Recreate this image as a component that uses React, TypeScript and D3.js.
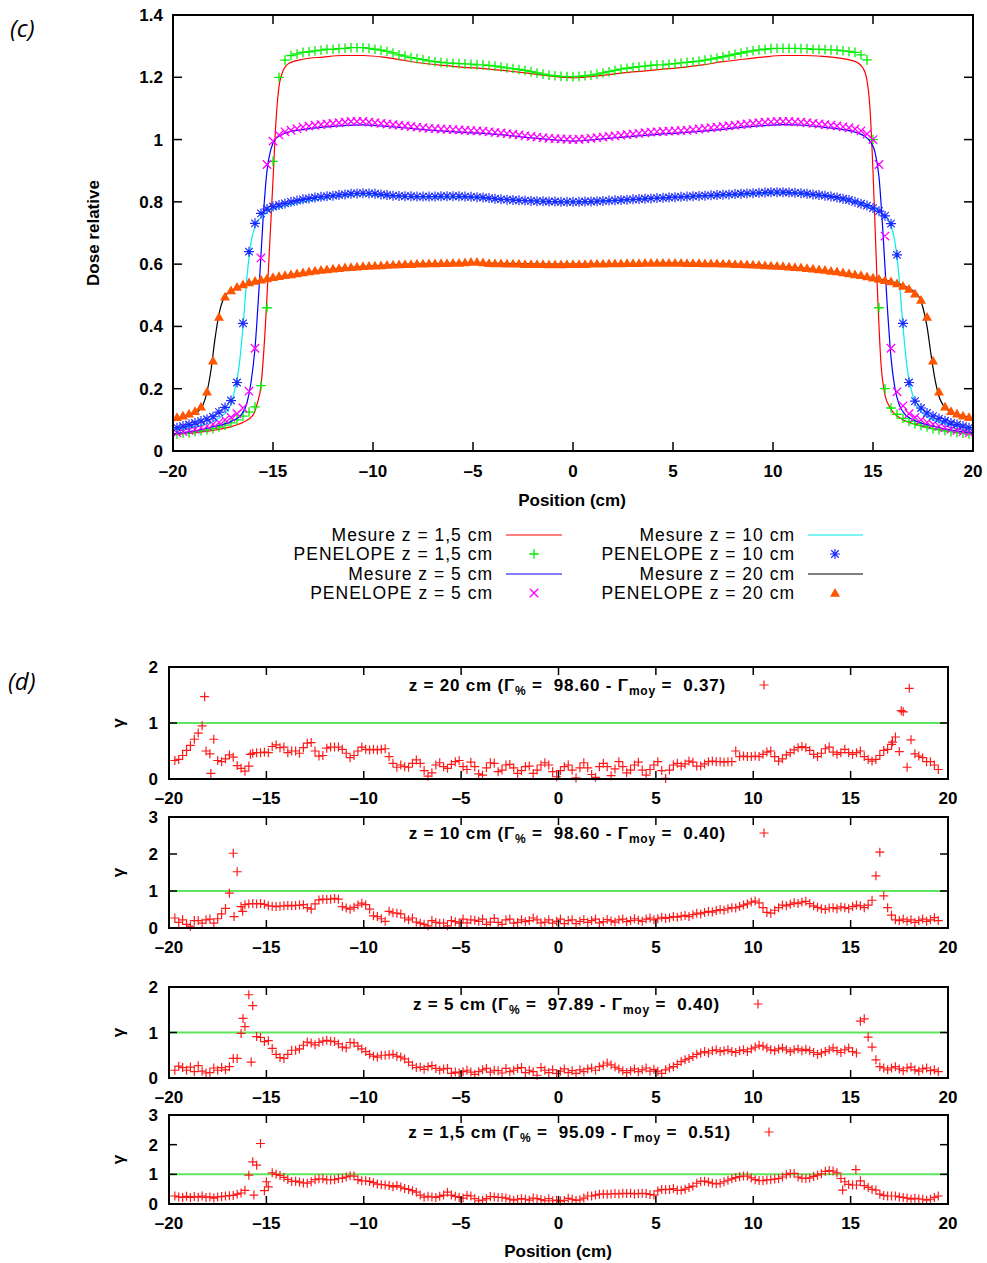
import React from "react";
import * as d3 from "d3";

const FONT = "'Liberation Sans', Arial, Helvetica, sans-serif";

// ---------- top chart (c) ----------
const positionTicks = [-20, -15, -10, -5, 0, 5, 10, 15, 20];
const positionTickLabels = ["–20", "–15", "–10", "–5", "0", "5", "10", "15", "20"];
const doseTicks = [0, 0.2, 0.4, 0.6, 0.8, 1, 1.2, 1.4];
const doseTickLabels = ["0", "0.2", "0.4", "0.6", "0.8", "1", "1.2", "1.4"];

// PENELOPE points, sampled every 0.3 cm starting at -19.8 cm
const penStart = -19.8;
const penStep = 0.3;
const pen15 = [
  0.055, 0.057, 0.058, 0.062, 0.065, 0.068, 0.072, 0.077, 0.083, 0.09, 0.1, 0.112, 0.125, 0.142, 0.21, 0.46, 0.93, 1.2,
  1.255, 1.27, 1.275, 1.28, 1.282, 1.285, 1.287, 1.29, 1.29, 1.292, 1.293, 1.295, 1.295, 1.295, 1.293, 1.29, 1.287, 1.283,
  1.278, 1.272, 1.268, 1.263, 1.26, 1.257, 1.253, 1.25, 1.248, 1.246, 1.245, 1.244, 1.243, 1.242, 1.24, 1.24, 1.238,
  1.236, 1.233, 1.23, 1.228, 1.225, 1.222, 1.218, 1.214, 1.21, 1.207, 1.205, 1.203, 1.202, 1.202,
  1.203, 1.205, 1.207, 1.21, 1.214, 1.218, 1.222, 1.226, 1.229, 1.232, 1.234, 1.236, 1.238, 1.24, 1.24, 1.242, 1.244,
  1.246, 1.248, 1.25, 1.252, 1.255, 1.258, 1.262, 1.266, 1.27, 1.274, 1.278, 1.282, 1.285, 1.288, 1.29, 1.292, 1.293,
  1.293, 1.293, 1.293, 1.292, 1.292, 1.29, 1.29, 1.289, 1.288, 1.287, 1.285, 1.283, 1.28, 1.272, 1.256, 1.0, 0.46, 0.2,
  0.138, 0.118, 0.105, 0.095, 0.088, 0.082, 0.077, 0.072, 0.068, 0.065, 0.062, 0.059, 0.057, 0.055,
];
const pen5 = [
  0.058, 0.062, 0.066, 0.07, 0.075, 0.08, 0.086, 0.092, 0.1, 0.108, 0.12, 0.138, 0.192, 0.33, 0.62, 0.92, 0.995,
  1.015, 1.025, 1.03, 1.035, 1.04, 1.043, 1.046, 1.048, 1.05, 1.052, 1.054, 1.056, 1.058, 1.058, 1.058, 1.056, 1.054,
  1.052, 1.05, 1.048, 1.046, 1.044, 1.042, 1.04, 1.038, 1.036, 1.035, 1.034, 1.033, 1.032, 1.031, 1.03, 1.029, 1.028,
  1.027, 1.025, 1.023, 1.021, 1.019, 1.017, 1.015, 1.012, 1.01, 1.008, 1.006, 1.004, 1.003, 1.002, 1.001, 1.0,
  1.001, 1.002, 1.004, 1.006, 1.008, 1.01, 1.012, 1.014, 1.016, 1.018, 1.02, 1.022, 1.024, 1.025, 1.026, 1.027, 1.028,
  1.029, 1.03, 1.032, 1.034, 1.036, 1.038, 1.04, 1.042, 1.044, 1.046, 1.048, 1.05, 1.052, 1.054, 1.056, 1.057, 1.058,
  1.058, 1.058, 1.057, 1.056, 1.054, 1.052, 1.05, 1.048, 1.046, 1.044, 1.041, 1.038, 1.034, 1.028, 1.018, 1.0, 0.92,
  0.69, 0.33, 0.19, 0.145, 0.12, 0.108, 0.1, 0.092, 0.086, 0.08, 0.075, 0.07, 0.066, 0.062, 0.058,
];
const pen10 = [
  0.075, 0.08, 0.085, 0.09, 0.096, 0.102, 0.11, 0.125, 0.14, 0.162, 0.22, 0.41, 0.64, 0.731, 0.763, 0.777, 0.785,
  0.79, 0.795, 0.8, 0.804, 0.808, 0.811, 0.814, 0.816, 0.818, 0.82, 0.822, 0.824, 0.826, 0.827, 0.828, 0.827, 0.826,
  0.824, 0.822, 0.82, 0.819, 0.818, 0.818, 0.817, 0.817, 0.817, 0.817, 0.818, 0.818, 0.818, 0.818, 0.817, 0.816,
  0.815, 0.814, 0.812, 0.81, 0.808, 0.807, 0.806, 0.805, 0.804, 0.803, 0.802, 0.802, 0.801, 0.801, 0.8, 0.8, 0.8,
  0.8, 0.801, 0.801, 0.802, 0.803, 0.804, 0.805, 0.806, 0.807, 0.808, 0.809, 0.81, 0.811, 0.812, 0.813, 0.814, 0.815,
  0.816, 0.817, 0.818, 0.819, 0.82, 0.821, 0.822, 0.823, 0.824, 0.825, 0.826, 0.827, 0.828, 0.829, 0.83, 0.831, 0.831,
  0.831, 0.83, 0.829, 0.828, 0.826, 0.824, 0.822, 0.82, 0.817, 0.814, 0.81, 0.806, 0.8, 0.794, 0.788, 0.78, 0.77,
  0.755, 0.73, 0.63, 0.41, 0.22, 0.16, 0.138, 0.122, 0.112, 0.104, 0.097, 0.09, 0.085, 0.08, 0.075,
];
const pen20 = [
  0.108, 0.113, 0.12, 0.128, 0.142, 0.19, 0.29, 0.43, 0.495, 0.515, 0.527, 0.535, 0.541, 0.546, 0.55, 0.554, 0.558,
  0.561, 0.564, 0.567, 0.57, 0.573, 0.576, 0.579, 0.581, 0.583, 0.585, 0.587, 0.589, 0.59, 0.592, 0.593, 0.594, 0.595,
  0.596, 0.597, 0.598, 0.599, 0.6, 0.6, 0.601, 0.601, 0.602, 0.602, 0.603, 0.603, 0.604, 0.604, 0.605, 0.607, 0.607,
  0.605, 0.603, 0.602, 0.602, 0.601, 0.601, 0.601, 0.6, 0.6, 0.6, 0.6, 0.599, 0.599, 0.599, 0.6, 0.6,
  0.6, 0.6, 0.601, 0.601, 0.601, 0.602, 0.602, 0.602, 0.603, 0.603, 0.603, 0.604, 0.604, 0.604, 0.604, 0.604, 0.604,
  0.604, 0.603, 0.603, 0.603, 0.602, 0.602, 0.602, 0.601, 0.601, 0.6, 0.6, 0.599, 0.598, 0.597, 0.596, 0.595, 0.594,
  0.593, 0.592, 0.59, 0.589, 0.587, 0.585, 0.583, 0.581, 0.578, 0.576, 0.573, 0.57, 0.567, 0.564, 0.56, 0.556, 0.552,
  0.548, 0.544, 0.538, 0.53, 0.52, 0.505, 0.485, 0.43, 0.29, 0.19, 0.142, 0.128, 0.12, 0.113, 0.108,
];

// Measured profiles
const mesX15 = [-20, -19, -18, -17, -16.5, -16, -15.8, -15.6, -15.4, -15.2, -15, -14.85, -14.7, -14.5, -14.2, -13.5, -12.5, -11.5, -10.5, -9.5, -8.5, -7.5, -6.5, -5.5, -4.5, -3.5, -2.5, -1.5, -0.5, 0, 0.5, 1.5, 2.5, 3.5, 4.5, 5.5, 6.5, 7.5, 8.5, 9.5, 10.5, 11.5, 12.5, 13.5, 14.2, 14.5, 14.7, 14.85, 15, 15.2, 15.4, 15.6, 15.8, 16, 16.5, 17, 18, 19, 20];
const mes15 = [0.052, 0.058, 0.066, 0.08, 0.092, 0.115, 0.15, 0.21, 0.38, 0.62, 0.87, 1.06, 1.17, 1.22, 1.245, 1.258, 1.265, 1.27, 1.27, 1.265, 1.255, 1.245, 1.238, 1.232, 1.228, 1.222, 1.215, 1.207, 1.2, 1.198, 1.2, 1.206, 1.214, 1.22, 1.226, 1.232, 1.24, 1.25, 1.258, 1.265, 1.27, 1.27, 1.267, 1.26, 1.248, 1.23, 1.19, 1.1, 0.9, 0.55, 0.28, 0.18, 0.145, 0.125, 0.1, 0.088, 0.072, 0.062, 0.056];
const mesX5 = [-20, -19, -18, -17, -16.6, -16.3, -16.1, -15.9, -15.7, -15.5, -15.3, -15.1, -14.9, -14.6, -14.2, -13.5, -12.5, -11.5, -10.5, -9.5, -8.5, -7.5, -6.5, -5.5, -4.5, -3.5, -2.5, -1.5, -0.5, 0, 0.5, 1.5, 2.5, 3.5, 4.5, 5.5, 6.5, 7.5, 8.5, 9.5, 10.5, 11.5, 12.5, 13.5, 14.2, 14.6, 14.9, 15.1, 15.3, 15.5, 15.7, 15.9, 16.1, 16.3, 16.6, 17, 18, 19, 20];
const mes5 = [0.055, 0.064, 0.078, 0.098, 0.115, 0.155, 0.22, 0.33, 0.52, 0.74, 0.9, 0.97, 1.0, 1.015, 1.025, 1.032, 1.04, 1.045, 1.047, 1.043, 1.038, 1.032, 1.027, 1.023, 1.02, 1.015, 1.008, 1.002, 0.997, 0.995, 0.997, 1.002, 1.008, 1.013, 1.018, 1.022, 1.027, 1.033, 1.04, 1.045, 1.048, 1.046, 1.04, 1.032, 1.022, 1.01, 0.99, 0.96, 0.88, 0.7, 0.48, 0.3, 0.2, 0.15, 0.118, 0.1, 0.08, 0.066, 0.058];
const mesX10 = [-20, -19, -18, -17.5, -17.1, -16.9, -16.7, -16.5, -16.3, -16.1, -15.9, -15.6, -15.2, -14.5, -13.5, -12.5, -11.5, -10.5, -9.5, -8.5, -7.5, -6.5, -5.5, -4.5, -3.5, -2.5, -1.5, -0.5, 0, 0.5, 1.5, 2.5, 3.5, 4.5, 5.5, 6.5, 7.5, 8.5, 9.5, 10.5, 11.5, 12.5, 13.5, 14.5, 15.2, 15.6, 15.9, 16.1, 16.3, 16.5, 16.7, 16.9, 17.1, 17.5, 18, 19, 20];
const mes10 = [0.07, 0.078, 0.095, 0.115, 0.15, 0.2, 0.27, 0.4, 0.56, 0.67, 0.72, 0.75, 0.77, 0.785, 0.8, 0.81, 0.818, 0.822, 0.82, 0.817, 0.815, 0.815, 0.815, 0.812, 0.808, 0.805, 0.802, 0.8, 0.8, 0.8, 0.802, 0.805, 0.808, 0.812, 0.815, 0.818, 0.82, 0.823, 0.826, 0.828, 0.825, 0.818, 0.808, 0.792, 0.775, 0.755, 0.725, 0.67, 0.56, 0.4, 0.27, 0.2, 0.155, 0.12, 0.1, 0.082, 0.072];
const mesX20 = [-20, -19.5, -19, -18.7, -18.5, -18.3, -18.1, -17.9, -17.7, -17.5, -17.3, -17, -16.5, -15.5, -14.5, -13.5, -12.5, -11.5, -10.5, -9.5, -8.5, -7.5, -6.5, -5.5, -4.5, -3.5, -2.5, -1.5, -0.5, 0.5, 1.5, 2.5, 3.5, 4.5, 5.5, 6.5, 7.5, 8.5, 9.5, 10.5, 11.5, 12.5, 13.5, 14.5, 15.5, 16.5, 17, 17.3, 17.5, 17.7, 17.9, 18.1, 18.3, 18.5, 18.7, 19, 19.5, 20];
const mes20 = [0.102, 0.11, 0.12, 0.13, 0.148, 0.19, 0.26, 0.36, 0.44, 0.485, 0.505, 0.518, 0.532, 0.55, 0.562, 0.572, 0.58, 0.587, 0.592, 0.596, 0.599, 0.601, 0.602, 0.603, 0.603, 0.602, 0.601, 0.6, 0.6, 0.6, 0.6, 0.601, 0.602, 0.603, 0.603, 0.602, 0.601, 0.599, 0.596, 0.592, 0.587, 0.58, 0.572, 0.562, 0.55, 0.532, 0.515, 0.495, 0.46, 0.4, 0.31, 0.23, 0.175, 0.148, 0.133, 0.122, 0.113, 0.106];

const legendLabels = [
  "Mesure z = 1,5 cm", "PENELOPE z = 1,5 cm", "Mesure z = 5 cm", "PENELOPE z = 5 cm",
  "Mesure z = 10 cm", "PENELOPE z = 10 cm", "Mesure z = 20 cm", "PENELOPE z = 20 cm",
];

// ---------- gamma panels (d) ----------
const gammaStart = -19.7;
const gammaStep = 0.2;
const gamma20 = [
  0.33, 0.35, 0.42, 0.51, 0.6, 0.71, 0.82, 0.95, 0.5, 0.45,
  0.71, 0.33, 0.31, 0.36, 0.43, 0.39, 0.24, 0.19, 0.14, 0.23,
  0.46, 0.47, 0.47, 0.48, 0.47, 0.58, 0.61, 0.56, 0.57, 0.47,
  0.5, 0.5, 0.46, 0.56, 0.64, 0.65, 0.5, 0.41, 0.42, 0.55,
  0.57, 0.57, 0.57, 0.53, 0.46, 0.38, 0.42, 0.5, 0.57, 0.53,
  0.52, 0.53, 0.52, 0.53, 0.54, 0.4, 0.28, 0.21, 0.25, 0.22,
  0.21, 0.28, 0.34, 0.28, 0.15, 0.05, 0.11, 0.25, 0.29, 0.22,
  0.19, 0.26, 0.31, 0.33, 0.22, 0.17, 0.3, 0.22, 0.09, 0.07,
  0.2, 0.29, 0.28, 0.13, 0.16, 0.25, 0.26, 0.2, 0.1, 0.15,
  0.22, 0.23, 0.1, 0.16, 0.25, 0.29, 0.25, 0.13, 0.04, 0.15,
  0.22, 0.25, 0.16, 0.02, 0.2, 0.29, 0.2, 0.08, 0.03, 0.22,
  0.28, 0.22, 0.06, 0.18, 0.31, 0.22, 0.11, 0.16, 0.25, 0.3,
  0.16, 0.07, 0.17, 0.25, 0.31, 0.15, 0.01, 0.16, 0.25, 0.28,
  0.23, 0.27, 0.32, 0.3, 0.23, 0.23, 0.27, 0.31, 0.32, 0.31,
  0.31, 0.3, 0.31, 0.31, 0.5, 0.4, 0.41, 0.4, 0.4, 0.41,
  0.4, 0.44, 0.48, 0.5, 0.4, 0.32, 0.36, 0.43, 0.47, 0.52,
  0.56, 0.58, 0.56, 0.51, 0.44, 0.4, 0.46, 0.54, 0.57, 0.48,
  0.44, 0.47, 0.53, 0.47, 0.44, 0.47, 0.5, 0.4, 0.35, 0.32,
  0.35, 0.42, 0.51, 0.53, 0.62, 0.75, 0.49, 1.2, 0.21, 0.7,
  0.45, 0.41, 0.38, 0.31, 0.31, 0.25, 0.17,
];
const gamma20ExtraX = [-18.17, -17.85, -15.82, 17.15, 17.6, 18.01];
const gamma20ExtraY = [1.47, 0.1, 0.44, 0.66, 1.22, 1.62];

const gamma10 = [
  0.27, 0.15, 0.22, 0.1, 0.05, 0.2, 0.2, 0.13, 0.22, 0.24,
  0.13, 0.25, 0.38, 0.53, 0.94, 2.02, 1.52, 0.58, 0.63, 0.65,
  0.66, 0.65, 0.66, 0.64, 0.6, 0.59, 0.58, 0.59, 0.6, 0.61,
  0.6, 0.61, 0.62, 0.63, 0.55, 0.51, 0.65, 0.76, 0.78, 0.77,
  0.78, 0.8, 0.78, 0.58, 0.54, 0.51, 0.56, 0.62, 0.67, 0.63,
  0.51, 0.33, 0.31, 0.25, 0.18, 0.45, 0.41, 0.4, 0.38, 0.27,
  0.22, 0.27, 0.16, 0.13, 0.1, 0.06, 0.2, 0.15, 0.13, 0.13,
  0.06, 0.2, 0.17, 0.13, 0.24, 0.14, 0.22, 0.21, 0.18, 0.24,
  0.1, 0.16, 0.26, 0.15, 0.1, 0.22, 0.24, 0.13, 0.15, 0.22,
  0.17, 0.2, 0.27, 0.22, 0.14, 0.16, 0.22, 0.13, 0.18, 0.24,
  0.12, 0.2, 0.22, 0.12, 0.18, 0.23, 0.15, 0.2, 0.24, 0.14,
  0.17, 0.23, 0.19, 0.16, 0.22, 0.24, 0.17, 0.2, 0.25, 0.21,
  0.18, 0.24, 0.27, 0.22, 0.25, 0.29, 0.26, 0.28, 0.31, 0.29,
  0.32, 0.34, 0.31, 0.36, 0.4, 0.38, 0.42, 0.45, 0.43, 0.47,
  0.5, 0.48, 0.52, 0.55, 0.54, 0.58, 0.62, 0.65, 0.7, 0.73,
  0.68, 0.55, 0.42, 0.4, 0.48, 0.55, 0.62, 0.6, 0.64, 0.68,
  0.66, 0.7, 0.72, 0.66, 0.6, 0.56, 0.52, 0.5, 0.54, 0.55,
  0.52, 0.57, 0.55, 0.52, 0.58, 0.62, 0.6, 0.55, 0.62, 0.75,
  1.41, 2.05, 0.87, 0.55, 0.35, 0.22, 0.2, 0.24, 0.18, 0.22,
  0.15, 0.2, 0.24, 0.18, 0.22, 0.28, 0.2,
];
const gamma10ExtraX = [-16.66, -16.22];
const gamma10ExtraY = [0.31, 0.45];

const gamma5 = [
  0.17, 0.26, 0.23, 0.17, 0.24, 0.14, 0.27, 0.15, 0.11, 0.12,
  0.22, 0.17, 0.23, 0.18, 0.25, 0.43, 0.43, 0.98, 1.13, 1.83,
  1.59, 0.91, 0.89, 0.8, 0.82, 0.65, 0.52, 0.45, 0.43, 0.52,
  0.61, 0.61, 0.64, 0.72, 0.79, 0.77, 0.73, 0.78, 0.81, 0.83,
  0.81, 0.8, 0.75, 0.68, 0.66, 0.78, 0.77, 0.7, 0.64, 0.58,
  0.52, 0.48, 0.46, 0.5, 0.5, 0.51, 0.52, 0.48, 0.46, 0.42,
  0.35, 0.28, 0.23, 0.24, 0.19, 0.25, 0.27, 0.21, 0.17, 0.2,
  0.21, 0.1, 0.13, 0.11, 0.14, 0.17, 0.13, 0.08, 0.14, 0.18,
  0.21, 0.13, 0.17, 0.16, 0.11, 0.21, 0.14, 0.17, 0.21, 0.23,
  0.12, 0.17, 0.14, 0.06, 0.23, 0.17, 0.12, 0.18, 0.1, 0.15,
  0.2, 0.12, 0.16, 0.1, 0.18, 0.14, 0.2, 0.22, 0.17, 0.25,
  0.28, 0.33, 0.29, 0.24, 0.2, 0.16, 0.12, 0.16, 0.2, 0.14,
  0.18, 0.22, 0.15, 0.19, 0.15, 0.1, 0.18, 0.22, 0.25, 0.3,
  0.36, 0.4, 0.43, 0.47, 0.52, 0.55, 0.58, 0.55, 0.6, 0.62,
  0.58, 0.6, 0.62, 0.58, 0.56, 0.6, 0.62, 0.58, 0.64, 0.68,
  0.72, 0.7, 0.66, 0.62, 0.6, 0.64, 0.66, 0.62, 0.58, 0.62,
  0.64, 0.6, 0.63, 0.6, 0.56, 0.52, 0.55, 0.58, 0.62, 0.66,
  0.6, 0.56, 0.62, 0.66, 0.58, 0.55, 1.25, 1.3, 0.9, 0.68,
  0.4, 0.25, 0.22, 0.18, 0.22, 0.25, 0.2, 0.16, 0.22, 0.24,
  0.18, 0.15, 0.2, 0.22, 0.16, 0.18, 0.14,
];
const gamma5ExtraX = [-16.2, -15.78];
const gamma5ExtraY = [1.31, 0.35];

const gamma15 = [
  0.27, 0.24, 0.22, 0.26, 0.22, 0.25, 0.23, 0.27, 0.22, 0.24,
  0.2, 0.24, 0.25, 0.27, 0.28, 0.29, 0.33, 0.37, 0.46, 0.97,
  1.42, 1.31, 2.04, 0.45, 0.58, 1.05, 1.0, 0.96, 0.9, 0.83,
  0.76, 0.77, 0.74, 0.71, 0.7, 0.75, 0.82, 0.85, 0.85, 0.81,
  0.81, 0.82, 0.86, 0.87, 0.91, 0.95, 0.94, 0.82, 0.78, 0.78,
  0.76, 0.72, 0.67, 0.65, 0.64, 0.62, 0.58, 0.62, 0.57, 0.52,
  0.49, 0.45, 0.4, 0.3, 0.23, 0.26, 0.24, 0.22, 0.26, 0.3,
  0.4, 0.3, 0.26, 0.22, 0.2, 0.29, 0.27, 0.18, 0.11, 0.13,
  0.18, 0.25, 0.24, 0.22, 0.22, 0.2, 0.16, 0.13, 0.16, 0.18,
  0.16, 0.13, 0.2, 0.18, 0.15, 0.11, 0.18, 0.11, 0.13, 0.1,
  0.12, 0.19, 0.16, 0.12, 0.14, 0.2, 0.27, 0.27, 0.3, 0.33,
  0.34, 0.33, 0.34, 0.35, 0.34, 0.36, 0.35, 0.36, 0.34, 0.35,
  0.36, 0.35, 0.32, 0.3, 0.44, 0.49, 0.48, 0.49, 0.52, 0.46,
  0.46, 0.5, 0.56, 0.6, 0.7, 0.76, 0.77, 0.74, 0.7, 0.68,
  0.7, 0.75, 0.8, 0.85, 0.89, 0.92, 0.94, 0.94, 0.88, 0.82,
  0.79, 0.79, 0.81, 0.82, 0.84, 0.86, 0.91, 0.99, 1.03, 1.03,
  0.91, 0.87, 0.86, 0.88, 0.93, 0.97, 1.02, 1.1, 1.13, 1.11,
  1.05, 0.86, 0.75, 0.66, 0.64, 0.64, 0.78, 0.62, 0.56, 0.49,
  0.47, 0.33, 0.29, 0.27, 0.27, 0.27, 0.24, 0.22, 0.2, 0.16,
  0.19, 0.17, 0.16, 0.13, 0.16, 0.22, 0.27,
];
const gamma15ExtraX = [-15.64, -15.0, 14.59, 15.27];
const gamma15ExtraY = [0.3, 0.75, 0.47, 1.16];

const gammaDepths = ["20", "10", "5", "1,5"];
const gammaPct = ["98.60", "98.60", "97.89", "95.09"];
const gammaMoy = ["0.37", "0.40", "0.40", "0.51"];
const gammaSeries = [gamma20, gamma10, gamma5, gamma15];
const gammaExtraXs = [gamma20ExtraX, gamma10ExtraX, gamma5ExtraX, gamma15ExtraX];
const gammaExtraYs = [gamma20ExtraY, gamma10ExtraY, gamma5ExtraY, gamma15ExtraY];
const gammaMax = [2, 3, 2, 3];

// ---------- layout ----------
const panelLayout = [
  { top: 667, bottom: 779, kx: 764, ky: 685 },
  { top: 817, bottom: 928, kx: 764, ky: 833 },
  { top: 987, bottom: 1078, kx: 758, ky: 1004 },
  { top: 1115, bottom: 1204, kx: 769, ky: 1132 },
];

const plus = (x: number, y: number, s: number) => `M${x - s},${y}H${x + s}M${x},${y - s}V${y + s}`;
const cross = (x: number, y: number, s: number) =>
  `M${x - s},${y - s}L${x + s},${y + s}M${x - s},${y + s}L${x + s},${y - s}`;
const star = (x: number, y: number, s: number) => plus(x, y, s) + cross(x, y, s * 0.75);
const tri = (x: number, y: number, s: number) => `M${x},${y - s}L${x + s},${y + s * 0.75}L${x - s},${y + s * 0.75}Z`;

const C = {
  red: "#ff0000",
  green: "#00ee00",
  blue: "#0000ff",
  magenta: "#ff00ff",
  cyan: "#00eeee",
  star: "#1a2aff",
  black: "#000000",
  orange: "#ff5500",
};

function TopChart() {
  const x = d3.scaleLinear().domain([-20, 20]).range([173, 973]);
  const y = d3.scaleLinear().domain([0, 1.4]).range([451, 15]);
  const line = d3
    .line<[number, number]>()
    .x((d) => x(d[0]))
    .y((d) => y(d[1]))
    .curve(d3.curveMonotoneX);
  const mk = (xs: number[], vs: number[]) => xs.map((xv, i) => [xv, vs[i]] as [number, number]);
  const penPts = (vs: number[]) => vs.map((v, i) => [penStart + i * penStep, v] as [number, number]);
  const markPath = (vs: number[], f: (a: number, b: number, s: number) => string, s: number) =>
    penPts(vs)
      .map((p) => f(x(p[0]), y(p[1]), s))
      .join("");

  const [L, R, T, B] = [173, 973, 15, 451];
  return (
    <g>
      <path d={line(mk(mesX15, mes15)) || ""} fill="none" stroke={C.red} strokeWidth={1.2} />
      <path d={markPath(pen15, plus, 4.8)} fill="none" stroke={C.green} strokeWidth={1.3} />
      <path d={line(mk(mesX5, mes5)) || ""} fill="none" stroke={C.blue} strokeWidth={1.2} />
      <path d={markPath(pen5, cross, 4.2)} fill="none" stroke={C.magenta} strokeWidth={1.3} />
      <path d={line(mk(mesX10, mes10)) || ""} fill="none" stroke={C.cyan} strokeWidth={1.2} />
      <path d={markPath(pen10, star, 5)} fill="none" stroke={C.star} strokeWidth={1.2} />
      <path d={line(mk(mesX20, mes20)) || ""} fill="none" stroke={C.black} strokeWidth={1.2} />
      <path d={markPath(pen20, tri, 5)} fill={C.orange} stroke="none" />

      <rect x={L} y={T} width={R - L} height={B - T} fill="none" stroke="#000" strokeWidth={2} />
      {positionTicks.map((t, i) => (
        <g key={"xt" + i}>
          <line x1={x(t)} x2={x(t)} y1={B} y2={B - 9} stroke="#000" strokeWidth={1.5} />
          <line x1={x(t)} x2={x(t)} y1={T} y2={T + 9} stroke="#000" strokeWidth={1.5} />
          <text x={x(t)} y={B + 26} textAnchor="middle" fontSize={17} fontWeight="bold" fontFamily={FONT}>
            {positionTickLabels[i]}
          </text>
        </g>
      ))}
      {doseTicks.map((t, i) => (
        <g key={"yt" + i}>
          <line x1={L} x2={L + 9} y1={y(t)} y2={y(t)} stroke="#000" strokeWidth={1.5} />
          <line x1={R} x2={R - 9} y1={y(t)} y2={y(t)} stroke="#000" strokeWidth={1.5} />
          <text x={L - 10} y={y(t) + 6} textAnchor="end" fontSize={17} fontWeight="bold" fontFamily={FONT}>
            {doseTickLabels[i]}
          </text>
        </g>
      ))}
      <text x={572} y={506} textAnchor="middle" fontSize={17} fontWeight="bold" fontFamily={FONT}>
        Position (cm)
      </text>
      <text
        transform="translate(99,233) rotate(-90)"
        textAnchor="middle"
        fontSize={17}
        fontWeight="bold"
        fontFamily={FONT}
      >
        Dose relative
      </text>
    </g>
  );
}

function Legend() {
  const rows = [535, 554, 574, 593];
  const cols = [
    { textX: 493, l1: 506, l2: 562, mx: 534 },
    { textX: 795, l1: 808, l2: 863, mx: 835 },
  ];
  const kinds: { t: "line" | "plus" | "cross" | "star" | "tri"; c: string }[] = [
    { t: "line", c: C.red },
    { t: "plus", c: C.green },
    { t: "line", c: C.blue },
    { t: "cross", c: C.magenta },
    { t: "line", c: C.cyan },
    { t: "star", c: C.star },
    { t: "line", c: C.black },
    { t: "tri", c: C.orange },
  ];
  return (
    <g>
      {legendLabels.map((lab, i) => {
        const col = cols[Math.floor(i / 4)];
        const cy = rows[i % 4];
        const k = kinds[i];
        let sym: React.ReactNode = null;
        if (k.t === "line")
          sym = <line x1={col.l1} x2={col.l2} y1={cy} y2={cy} stroke={k.c} strokeWidth={1.2} />;
        else if (k.t === "plus") sym = <path d={plus(col.mx, cy, 4.8)} stroke={k.c} strokeWidth={1.3} fill="none" />;
        else if (k.t === "cross") sym = <path d={cross(col.mx, cy, 4.2)} stroke={k.c} strokeWidth={1.3} fill="none" />;
        else if (k.t === "star") sym = <path d={star(col.mx, cy, 5)} stroke={k.c} strokeWidth={1.2} fill="none" />;
        else sym = <path d={tri(col.mx, cy, 5)} fill={k.c} />;
        return (
          <g key={"lg" + i}>
            <text
              x={col.textX}
              y={cy + 6}
              textAnchor="end"
              fontSize={17.5}
              letterSpacing={1}
              fontFamily={FONT}
              fill="#000"
            >
              {lab}
            </text>
            {sym}
          </g>
        );
      })}
    </g>
  );
}

function GammaPanel({ idx }: { idx: number }) {
  const lay = panelLayout[idx];
  const L = 169;
  const R = 948;
  const x = d3.scaleLinear().domain([-20, 20]).range([L, R]);
  const y = d3.scaleLinear().domain([0, gammaMax[idx]]).range([lay.bottom, lay.top]);
  const yTicks = d3.range(0, gammaMax[idx] + 1);
  const vals = gammaSeries[idx];
  const pts = vals.map((v, i) => [gammaStart + i * gammaStep, v]);
  const ex = gammaExtraXs[idx].map((xv, i) => [xv, gammaExtraYs[idx][i]]);
  const d = pts
    .concat(ex)
    .map((p) => plus(x(p[0]), y(p[1]), 4.5))
    .join("");
  const sub = 4;
  return (
    <g>
      <line x1={L} x2={R} y1={y(1)} y2={y(1)} stroke="#5fe65f" strokeWidth={2} />
      <path d={d} fill="none" stroke="#ff1a1a" strokeWidth={1.2} />
      <rect x={L} y={lay.top} width={R - L} height={lay.bottom - lay.top} fill="none" stroke="#000" strokeWidth={2} />
      {positionTicks.map((t, i) => (
        <g key={"gx" + i}>
          <line x1={x(t)} x2={x(t)} y1={lay.bottom} y2={lay.bottom - 8} stroke="#000" strokeWidth={1.5} />
          <line x1={x(t)} x2={x(t)} y1={lay.top} y2={lay.top + 8} stroke="#000" strokeWidth={1.5} />
          <text x={x(t)} y={lay.bottom + 25} textAnchor="middle" fontSize={17} fontWeight="bold" fontFamily={FONT}>
            {positionTickLabels[i]}
          </text>
        </g>
      ))}
      {yTicks.map((t) => (
        <g key={"gy" + t}>
          <line x1={L} x2={L + 8} y1={y(t)} y2={y(t)} stroke="#000" strokeWidth={1.5} />
          <line x1={R} x2={R - 8} y1={y(t)} y2={y(t)} stroke="#000" strokeWidth={1.5} />
          <text x={L - 11} y={y(t) + 6} textAnchor="end" fontSize={17} fontWeight="bold" fontFamily={FONT}>
            {String(t)}
          </text>
        </g>
      ))}
      <text
        transform={`translate(${124},${(lay.top + lay.bottom) / 2}) rotate(-90)`}
        textAnchor="middle"
        fontSize={17}
        fontWeight="bold"
        fontFamily={FONT}
      >
        γ
      </text>
      <text
        x={lay.kx - 38}
        y={lay.ky + 6}
        textAnchor="end"
        fontSize={17}
        fontWeight="bold"
        fontFamily={FONT}
        letterSpacing={0.8}
        style={{ whiteSpace: "pre" }}
      >
        {`z = ${gammaDepths[idx]} cm (Γ`}
        <tspan dy={sub} fontSize={12}>%</tspan>
        <tspan dy={-sub}>{` =  ${gammaPct[idx]} - Γ`}</tspan>
        <tspan dy={sub} fontSize={12}>moy</tspan>
        <tspan dy={-sub}>{` =  ${gammaMoy[idx]})`}</tspan>
      </text>
      <path d={plus(lay.kx, lay.ky, 4.5)} stroke="#ff1a1a" strokeWidth={1.2} fill="none" />
    </g>
  );
}

export default function App() {
  return (
    <svg
      width={987}
      height={1263}
      viewBox="0 0 987 1263"
      style={{ position: "absolute", left: 0, top: 0, background: "#fff" }}
    >
      <rect x={0} y={0} width={987} height={1263} fill="#fff" />
      <text x={10} y={37} fontSize={24} fontStyle="italic" fontFamily="'Open Sans', 'DejaVu Sans', sans-serif">
        (c)
      </text>
      <text x={8} y={690} fontSize={24} fontStyle="italic" fontFamily="'Open Sans', 'DejaVu Sans', sans-serif">
        (d)
      </text>
      <TopChart />
      <Legend />
      {[0, 1, 2, 3].map((i) => (
        <GammaPanel key={i} idx={i} />
      ))}
      <text x={558} y={1257} textAnchor="middle" fontSize={17} fontWeight="bold" fontFamily={FONT}>
        Position (cm)
      </text>
    </svg>
  );
}
